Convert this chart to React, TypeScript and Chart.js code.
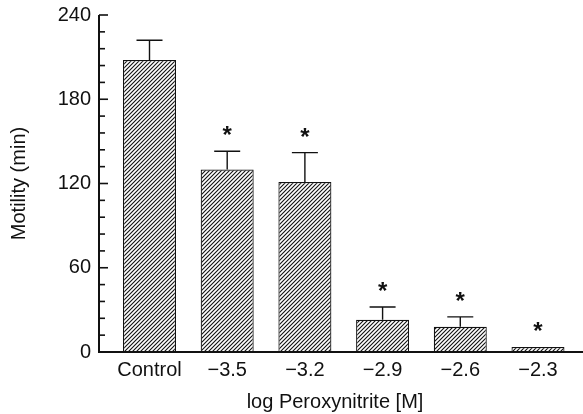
import React, { useEffect, useRef } from "react";
import { Chart, registerables } from "chart.js";

Chart.register(...registerables);

const categories = ["Control", "\u22123.5", "\u22123.2", "\u22122.9", "\u22122.6", "\u22122.3"];
const motility = [208, 130, 121, 23, 18, 3.5];
const sem = [14, 13, 21, 9, 7, 0];
const significant = [false, true, true, true, true, true];
const yTicks = [0, 60, 120, 180, 240];

const FONT = "'Liberation Sans', Arial, Helvetica, sans-serif";

function makeHatch(): CanvasPattern | string {
  const s = 4;
  const c = document.createElement("canvas");
  c.width = s;
  c.height = s;
  const g = c.getContext("2d");
  if (!g) return "#fff";
  g.fillStyle = "#fff";
  g.fillRect(0, 0, s, s);
  g.strokeStyle = "#111";
  g.lineWidth = 1.1;
  g.beginPath();
  g.moveTo(-1, s + 1);
  g.lineTo(s + 1, -1);
  g.moveTo(-1, 1);
  g.lineTo(1, -1);
  g.moveTo(s - 1, s + 1);
  g.lineTo(s + 1, s - 1);
  g.stroke();
  const p = g.createPattern(c, "repeat");
  return p || "#fff";
}

const overlay = {
  id: "overlay",
  afterDatasetsDraw(chart: any) {
    const ctx = chart.ctx;
    const xs = chart.scales.x;
    const ys = chart.scales.y;
    ctx.save();
    ctx.strokeStyle = "#111";
    ctx.fillStyle = "#111";
    ctx.lineWidth = 1.4;
    motility.forEach((v, i) => {
      const x = xs.getPixelForValue(i);
      const yb = ys.getPixelForValue(v);
      const yt = ys.getPixelForValue(v + sem[i]);
      if (sem[i] > 0) {
        ctx.beginPath();
        ctx.moveTo(x, yb);
        ctx.lineTo(x, yt);
        ctx.moveTo(x - 13, yt);
        ctx.lineTo(x + 13, yt);
        ctx.stroke();
      }
      if (significant[i]) {
        ctx.font = `bold 24px ${FONT}`;
        ctx.textAlign = "center";
        ctx.textBaseline = "alphabetic";
        ctx.fillText("*", x, yt - 8);
      }
    });
    ctx.restore();
  },
  afterDraw(chart: any) {
    const ctx = chart.ctx;
    const ys = chart.scales.y;
    const area = chart.chartArea;
    ctx.save();
    ctx.strokeStyle = "#111";
    ctx.lineWidth = 2;
    const y0 = ys.getPixelForValue(0);
    const yTop = ys.getPixelForValue(240);
    ctx.beginPath();
    ctx.moveTo(area.left, yTop);
    ctx.lineTo(area.left, y0);
    ctx.moveTo(area.left - 1, y0);
    ctx.lineTo(chart.width, y0);
    ctx.stroke();
    ctx.lineWidth = 1.6;
    for (let v = 12; v <= 240; v += 12) {
      const y = ys.getPixelForValue(v);
      const len = v % 60 === 0 ? 9 : 6;
      ctx.beginPath();
      ctx.moveTo(area.left, y);
      ctx.lineTo(area.left + len, y);
      ctx.stroke();
    }
    ctx.restore();
  },
};

export default function App() {
  const ref = useRef<HTMLCanvasElement>(null);
  useEffect(() => {
    if (!ref.current) return;
    const hatch = makeHatch();
    const chart = new Chart(ref.current, {
      type: "bar",
      data: {
        datasets: [
          {
            data: motility.map((v, i) => ({ x: i, y: v })),
            backgroundColor: hatch as any,
            borderColor: "#111",
            borderWidth: 1.2,
            categoryPercentage: 1,
            barPercentage: 0.682,
          },
        ],
      },
      options: {
        animation: false,
        responsive: false,
        layout: { padding: { top: 15, right: 12, left: 0, bottom: 0 } },
        plugins: { legend: { display: false }, tooltip: { enabled: false } },
        scales: {
          x: {
            type: "linear",
            offset: false,
            min: -0.65,
            max: 5.425,
            grid: { display: false, drawTicks: false, offset: false },
            border: { display: false },
            afterBuildTicks: (scale: any) => {
              scale.ticks = categories.map((_, i) => ({ value: i }));
            },
            afterFit: (scale: any) => {
              scale.height = 62;
              scale.paddingLeft = 0;
              scale.paddingRight = 0;
            },
            ticks: {
              autoSkip: false,
              maxRotation: 0,
              padding: 6,
              color: "#111",
              font: { family: FONT, size: 20 },
              callback: (v: any) => categories[Number(v)] ?? "",
            },
            title: {
              display: true,
              text: "log Peroxynitrite [M]",
              color: "#111",
              font: { family: FONT, size: 20 },
              padding: { top: 0, bottom: 0 },
            },
          },
          y: {
            min: 0,
            max: 240,
            grid: { display: false, drawTicks: false },
            border: { display: false },
            afterBuildTicks: (scale: any) => {
              scale.ticks = yTicks.map((v) => ({ value: v }));
            },
            afterFit: (scale: any) => {
              scale.width = 99;
              scale.paddingTop = 0;
              scale.paddingBottom = 0;
            },
            ticks: {
              padding: 8,
              color: "#111",
              font: { family: FONT, size: 20 },
            },
            title: {
              display: true,
              text: "Motility (min)",
              color: "#111",
              font: { family: FONT, size: 20 },
              padding: { top: 7, bottom: 0 },
            },
          },
        },
      },
      plugins: [overlay],
    });
    return () => chart.destroy();
  }, []);
  return (
    <div style={{ position: "absolute", left: 0, top: 0, width: 583, height: 414, background: "#fff" }}>
      <canvas ref={ref} width={583} height={414} />
    </div>
  );
}
